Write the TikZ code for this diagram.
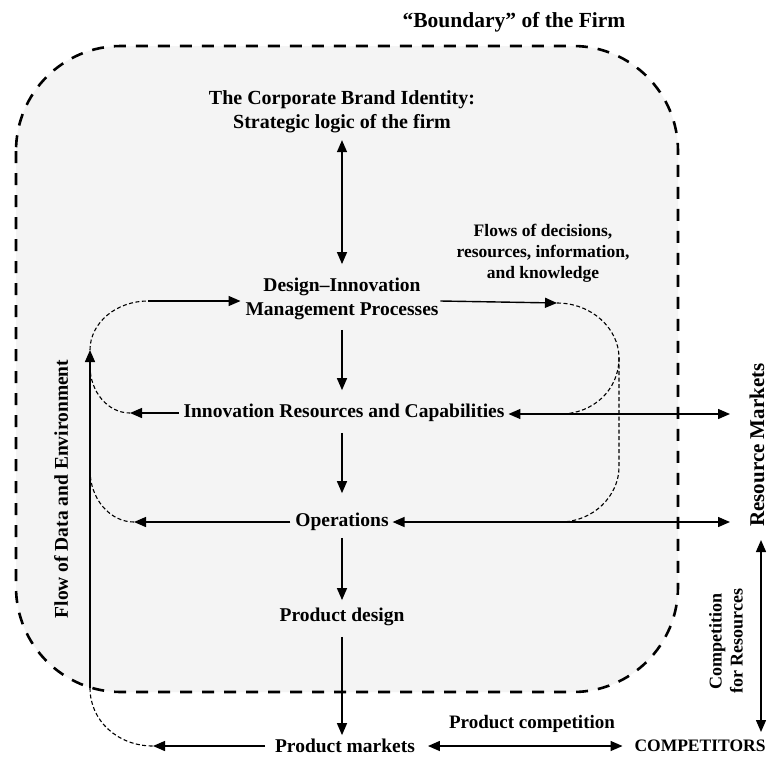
\documentclass[tikz,border=0pt]{standalone}
\usepackage{fontspec}
\setmainfont{Liberation Serif}
\usetikzlibrary{arrows.meta,calc}
\definecolor{firmfill}{HTML}{F4F4F4}
\tikzset{
  lbl/.style={inner sep=0pt, outer sep=0pt, align=center, font=\fontsize{19.5}{24}\selectfont\bfseries},
  fs/.style 2 args={font=\fontsize{#1}{#2}\selectfont\bfseries},
  arr/.style={line width=1.4pt, -{Triangle[length=12pt,width=10pt]}},
  darr/.style={line width=1.4pt, {Triangle[length=12pt,width=10pt]}-{Triangle[length=12pt,width=10pt]}},
  flowd/.style={line width=1.1pt, dash pattern=on 4pt off 2.5pt},
  firmbox/.style={line width=2.6pt, dash pattern=on 12pt off 10pt, fill=firmfill, rounded corners=105pt}
}
\begin{document}
\begin{tikzpicture}[x=1pt,y=-1pt]
\useasboundingbox (0,0) rectangle (768,764);
\fill[white] (0,0) rectangle (768,764);
\draw[firmbox] (16,46) rectangle (678,692);

% texts
\node[lbl, fs={21.5}{26}] (title) at (514,22) {“Boundary” of the Firm};
\node[lbl, fs={20}{24}] (brand) at (342,112) {The Corporate Brand Identity:\\Strategic logic of the firm};
\node[lbl, fs={17.5}{21}] (flows) at (543,253) {Flows of decisions,\\resources, information,\\and knowledge};
\node[lbl] (design) at (342,299) {Design–Innovation\\Management Processes};
\node[lbl] (innov) at (344,413) {Innovation Resources and Capabilities};
\node[lbl] (ops) at (342,522) {Operations};
\node[lbl] (pdesign) at (342,617) {Product design};
\node[lbl] (pmarkets) at (345,746) {Product markets};
\node[lbl, fs={19}{23}] (pcomp) at (532,724) {Product competition};
\node[lbl, fs={17.5}{21}] (competitors) at (700,746) {COMPETITORS};
\node[lbl, fs={21}{25}, rotate=90] (resmkts) at (757,445) {Resource Markets};
\node[lbl, fs={18}{21}, rotate=90] (compres) at (726,641) {Competition\\for Resources};
\node[lbl, rotate=90] (flowdata) at (61,489) {Flow of Data and Environment};

% junction points
\coordinate (fTop) at (90,350);
\coordinate (fb1) at (90,366);
\coordinate (fc1) at (90,470);
\coordinate (fBot) at (90,688);
\coordinate (la) at (148,301);
\coordinate (lb) at (130,413);
\coordinate (lc) at (134,522);
\coordinate (ld) at (153,746);
\coordinate (ra) at (557,303);
\coordinate (rmid) at (619,358);
\coordinate (rb) at (560,414);
\coordinate (rv) at (619,467);
\coordinate (rc) at (560,522);
\coordinate (rmA) at (730,414);
\coordinate (rmB) at (730,522);
\coordinate (cvT) at (761,540);
\coordinate (cvB) at (761,732);

% vertical main column
\draw[darr, shorten <=7pt, shorten >=14pt] (brand.south) -- (design.north);
\draw[arr, shorten <=10pt, shorten >=14pt] (design.south) -- (design.south |- innov.north);
\draw[arr, shorten <=11pt, shorten >=20pt] (innov.south -| ops.north) -- (ops.north);
\draw[arr, shorten <=7pt, shorten >=8pt] (ops.south) -- (pdesign.north);
\draw[arr, shorten <=11pt, shorten >=4pt] (pdesign.south) -- (pdesign.south |- pmarkets.north);

% horizontal arrows
\draw[arr, shorten >=5pt] (la) -- (la -| design.west);
\draw[arr] ($(design.east)+(2,2)$) -- (ra);
\draw[arr, shorten <=5pt] (innov.west) -- (lb);
\draw[darr, shorten <=4pt] (innov.east |- rb) -- (rmA);
\draw[arr, shorten <=5pt] (ops.west) -- (lc);
\draw[darr, shorten <=4pt] (ops.east) -- (rmB);
\draw[arr, shorten <=10pt] (pmarkets.west) -- (ld);
\draw[darr, shorten <=13pt, shorten >=12pt] (pmarkets.east) -- (competitors.west);
\draw[darr] (cvT) -- (cvB);
\draw[arr] (fBot) -- (fTop);

% dashed flows
\draw[flowd] (fTop) .. controls (90,323) and (116,301) .. (la);
\draw[flowd] (fb1) .. controls (90,392) and (108,413) .. (lb);
\draw[flowd] (fc1) .. controls (90,499) and (110,522) .. (lc);
\draw[flowd] (fBot) .. controls (90,721) and (118,746) .. (ld);
\draw[flowd] (ra) .. controls (591,303) and (619,328) .. (rmid) .. controls (619,390) and (593,414) .. (rb);
\draw[flowd] (rmid) -- (rv) .. controls (619,496) and (593,522) .. (rc);
\end{tikzpicture}
\end{document}
